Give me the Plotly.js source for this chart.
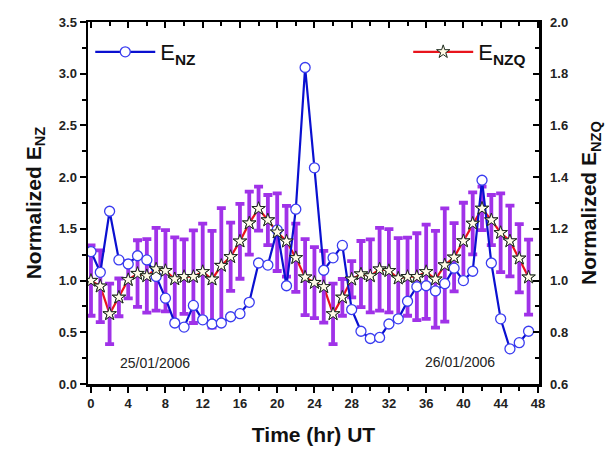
<!DOCTYPE html>
<html>
<head>
<meta charset="utf-8">
<script src="https://cdn.plot.ly/plotly-3.0.1.min.js"></script>
<style>html,body{margin:0;padding:0;background:#fff;}#chart{width:615px;height:449px;}</style>
</head>
<body>
<div id="chart"></div>
<script>
// Hours (UT), 25-26 Jan 2006
var hours = [0,1,2,3,4,5,6,7,8,9,10,11,12,13,14,15,16,17,18,19,20,21,22,23,
             24,25,26,27,28,29,30,31,32,33,34,35,36,37,38,39,40,41,42,43,44,45,46,47];
// Normalized E_NZ (left axis)
var enz = [1.28,1.08,1.67,1.20,1.16,1.24,1.20,1.04,0.83,0.59,0.55,0.76,0.62,0.58,0.59,0.65,0.68,0.79,1.17,1.15,1.49,0.95,1.69,3.06,
           2.09,1.10,1.22,1.34,0.72,0.51,0.44,0.45,0.58,0.63,0.80,0.94,0.95,0.90,0.97,1.12,1.00,1.09,1.97,1.17,0.63,0.34,0.40,0.51];
// Normalized E_NZQ (right axis)
var enzq = [1.000,0.978,0.871,0.935,1.003,1.027,1.018,1.044,1.038,1.006,1.015,1.015,1.034,1.005,1.058,1.092,1.152,1.222,1.278,1.234,1.187,1.152,1.088,1.013,
            0.992,0.976,0.871,0.935,1.005,1.025,1.018,1.044,1.038,1.009,1.015,1.015,1.034,1.005,1.060,1.090,1.153,1.221,1.279,1.234,1.185,1.153,1.086,1.013];
// E_NZQ error (+/-)
var enzqErr = [0.136,0.139,0.117,0.073,0.072,0.129,0.142,0.160,0.157,0.161,0.144,0.179,0.186,0.187,0.222,0.132,0.145,0.122,0.085,0.097,0.150,0.137,0.132,0.147,
               0.137,0.139,0.117,0.071,0.070,0.128,0.141,0.160,0.161,0.155,0.151,0.168,0.182,0.187,0.219,0.132,0.148,0.120,0.084,0.097,0.152,0.137,0.132,0.145];
var xTicks = [0,4,8,12,16,20,24,28,32,36,40,44,48];
var dateLabels = ['25/01/2006','26/01/2006'];
var dateX = [6.9, 39.6];
var dateY = [0.2, 0.21];

var FONT = 'Liberation Sans, Arial, sans-serif';
var starMarker = {symbol:'star', size:10, color:'#fffbe8', line:{color:'#1c2a1c', width:1}};

var traces = [
  { // red line with stars (bottom layer, carries legend)
    x: hours, y: enzq, xaxis:'x', yaxis:'y', type:'scatter', mode:'lines+markers',
    name:'E<sub><b>NZQ</b></sub>', legend:'legend2',
    line:{color:'#e8141c', width:2.2}, marker:starMarker, hoverinfo:'skip'
  },
  { // error bars
    x: hours, y: enzq, xaxis:'x', yaxis:'y', type:'scatter', mode:'markers', showlegend:false,
    marker:{size:1, color:'rgba(0,0,0,0)'}, hoverinfo:'skip',
    error_y:{type:'data', array:enzqErr, visible:true, color:'#a032e8', thickness:3.8, width:4.5}
  },
  { // E_NZ
    x: hours, y: enz, xaxis:'x', yaxis:'y2', type:'scatter', mode:'lines+markers',
    name:'E<sub><b>NZ</b></sub>', legend:'legend',
    line:{color:'#0a10d0', width:2.2},
    marker:{symbol:'circle', size:10, color:'#ffffff', line:{color:'#3a3cf0', width:1.3}},
    hoverinfo:'skip'
  },
  { // stars on top
    x: hours, y: enzq, xaxis:'x2', yaxis:'y3', type:'scatter', mode:'markers', showlegend:false,
    marker:starMarker, hoverinfo:'skip'
  }
];

var xr = [-0.32, 48.12];
var tickFont = {family:FONT, size:13, color:'#222', weight:'bold'};
var annotations = dateLabels.map(function(t,i){
  return {text:t, x:dateX[i], y:dateY[i], xref:'x', yref:'y2', showarrow:false,
          font:{family:FONT, size:14, color:'#222'}};
});

var layout = {
  width:615, height:449,
  margin:{l:88, r:76, t:22, b:65},
  paper_bgcolor:'#fff', plot_bgcolor:'#fff',
  font:{family:FONT, color:'#111'},
  xaxis:{range:xr, tickvals:xTicks, ticks:'outside', ticklen:6, tickwidth:2, tickcolor:'#000',
         minor:{dtick:2, tick0:0, ticks:'outside', ticklen:4, tickwidth:2, tickcolor:'#000'},
         showline:true, linewidth:2.5, linecolor:'#000', showgrid:false, zeroline:false,
         tickfont:tickFont,
         title:{text:'Time (hr) UT', font:{family:FONT, size:21, color:'#111', weight:'bold'}, standoff:17}},
  xaxis2:{range:xr, overlaying:'x', side:'top', anchor:'y', tickvals:xTicks, ticks:'inside', ticklen:6, tickwidth:2, tickcolor:'#000',
         minor:{dtick:2, tick0:0, ticks:'inside', ticklen:4, tickwidth:2, tickcolor:'#000'},
         showticklabels:false, showline:true, linewidth:2.5, linecolor:'#000', showgrid:false, zeroline:false},
  yaxis:{range:[0.6,2.0], side:'right', anchor:'x', dtick:0.2, tick0:0.6, tickformat:'.1f',
         ticks:'inside', ticklen:6, tickwidth:2, tickcolor:'#000',
         minor:{dtick:0.1, ticks:'inside', ticklen:4, tickwidth:2, tickcolor:'#000'},
         ticklabelstandoff:6,
         showline:true, linewidth:2.5, linecolor:'#000', showgrid:false, zeroline:false,
         tickfont:tickFont,
         title:{text:'Normalized E<sub>NZQ</sub>', font:{family:FONT, size:21, color:'#111', weight:'bold'}, standoff:14}},
  yaxis2:{range:[0,3.5], side:'left', overlaying:'y', anchor:'x', dtick:0.5, tick0:0, tickformat:'.1f',
         ticks:'outside', ticklen:6, tickwidth:2, tickcolor:'#000',
         minor:{dtick:0.25, ticks:'outside', ticklen:4, tickwidth:2, tickcolor:'#000'},
         showline:true, linewidth:2.5, linecolor:'#000', showgrid:false, zeroline:false,
         tickfont:tickFont,
         title:{text:'Normalized E<sub>NZ</sub>', font:{family:FONT, size:21, color:'#111', weight:'bold'}, standoff:12}},
  yaxis3:{range:[0.6,2.0], overlaying:'y', anchor:'x2', visible:false},
  legend:{x:0.005, y:0.917, xanchor:'left', yanchor:'middle', bgcolor:'rgba(0,0,0,0)', borderwidth:0,
          itemwidth:60, font:{family:FONT, size:22, color:'#111'}},
  legend2:{x:0.71, y:0.917, xanchor:'left', yanchor:'middle', bgcolor:'rgba(0,0,0,0)', borderwidth:0,
          itemwidth:60, font:{family:FONT, size:22, color:'#111'}},
  annotations:annotations,
  showlegend:true
};

Plotly.newPlot('chart', traces, layout, {staticPlot:true, displayModeBar:false});
</script>
</body>
</html>
